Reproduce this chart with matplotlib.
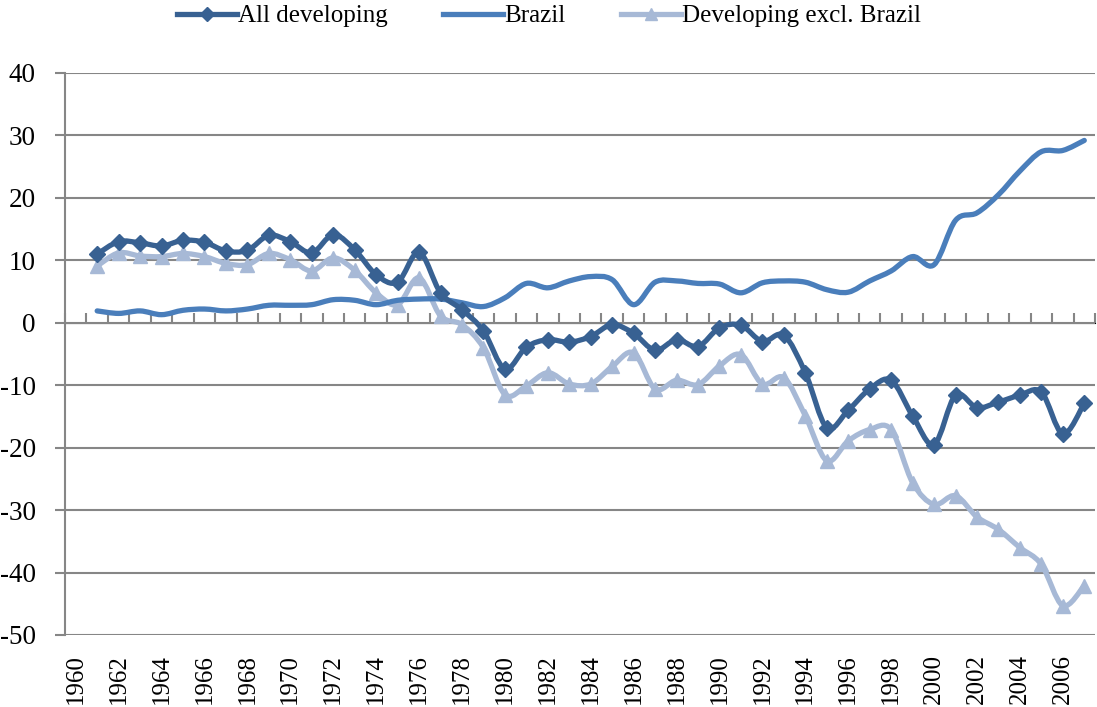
import numpy as np
import matplotlib
matplotlib.use("Agg")
import matplotlib.pyplot as plt
from matplotlib.path import Path
from matplotlib.patches import PathPatch
from matplotlib.lines import Line2D

years = list(range(1961, 2008))
all_developing = [11.0, 13.0, 12.8, 12.3, 13.2, 12.9, 11.5, 11.6, 14.0, 13.0, 11.2, 14.1, 11.7, 7.7, 6.5, 11.3,
                  4.8, 2.1, -1.3, -7.4, -3.9, -2.7, -3.1, -2.2, -0.3, -1.7, -4.4, -2.7, -3.8, -0.8, -0.4, -3.0, -2.0,
                  -8.0, -16.8, -14.0, -10.6, -9.2, -14.9, -19.5, -11.6, -13.6, -12.7, -11.6, -11.1, -17.8, -12.9]
brazil = [1.9, 1.5, 1.9, 1.3, 2.0, 2.2, 1.9, 2.2, 2.8, 2.8, 2.9, 3.7, 3.6, 2.9, 3.6, 3.8,
          3.8, 3.2, 2.6, 4.0, 6.3, 5.6, 6.7, 7.4, 6.9, 2.9, 6.5, 6.7, 6.3, 6.2, 4.8, 6.4, 6.7,
          6.5, 5.3, 4.9, 6.7, 8.3, 10.6, 9.3, 16.4, 17.6, 20.5, 24.3, 27.4, 27.6, 29.2]
excl_brazil = [9.1, 11.2, 10.7, 10.6, 11.1, 10.6, 9.5, 9.3, 11.1, 10.1, 8.3, 10.4, 8.4, 4.8, 2.9, 7.2,
               1.1, -0.3, -4.0, -11.5, -10.1, -8.0, -9.8, -9.8, -7.0, -4.8, -10.6, -9.2, -9.9, -6.9, -5.1, -9.8, -8.8,
               -14.9, -22.1, -18.9, -17.1, -17.1, -25.6, -29.1, -27.7, -31.1, -33.1, -36.0, -38.7, -45.3, -42.1]
tick_years = list(range(1960, 2007, 2))
yticks = list(range(-50, 41, 10))

c_all = "#386192"
c_bra = "#4A7EBB"
c_exc = "#A7B9D6"
grid_c = "#868686"

plt.rcParams['font.family'] = ['Liberation Serif', 'DejaVu Serif']

fig = plt.figure(figsize=(10.97, 7.07), dpi=100)
ax = fig.add_axes([65/1097, 1-635/707, 1030/1097, 562/707])


def smooth_path(xs, ys):
    p = np.column_stack([xs, ys]).astype(float)
    n = len(p)
    verts = [p[0]]
    codes = [Path.MOVETO]
    for i in range(n - 1):
        p0 = p[i - 1] if i > 0 else p[i]
        p1 = p[i]
        p2 = p[i + 1]
        p3 = p[i + 2] if i + 2 < n else p[i + 1]
        c1 = p1 + (p2 - p0) / 6.0
        c2 = p2 - (p3 - p1) / 6.0
        verts += [c1, c2, p2]
        codes += [Path.CURVE4] * 3
    return Path(verts, codes)


lw = 3.8
for ys, col, z in [(brazil, c_bra, 3), (excl_brazil, c_exc, 2), (all_developing, c_all, 4)]:
    ax.add_patch(PathPatch(smooth_path(years, ys), fill=False, edgecolor=col, lw=lw,
                           capstyle='round', joinstyle='round', zorder=z))

ax.plot(years, all_developing, linestyle='none', marker='D', ms=8.5, color=c_all, zorder=5)
ax.plot(years, excl_brazil, linestyle='none', marker='^', ms=10.5, color=c_exc, zorder=2.5)

ax.set_xlim(1959.5, 2007.5)
ax.set_ylim(-50, 40)
ax.set_yticks(yticks)
ax.set_yticklabels([str(v) for v in yticks], fontsize=19.5)
ax.set_xticks(tick_years)
ax.set_xticklabels([str(y) for y in tick_years], rotation=90, fontsize=18)
ax.tick_params(axis='x', length=0, pad=14)
ax.tick_params(axis='y', length=7, width=1.5, color=grid_c, pad=14, direction='out')
ax.grid(axis='y', color=grid_c, lw=1.5, zorder=0)
ax.set_axisbelow(True)
for s in ['top', 'right', 'bottom']:
    ax.spines[s].set_visible(False)
ax.spines['left'].set_color(grid_c)
ax.spines['left'].set_linewidth(1.5)

# category axis crossing at zero with tick marks at boundaries
sec = ax.secondary_xaxis(50/90)
sec.set_xticks(np.arange(1959.5, 2008, 1.0))
sec.set_xticklabels([])
sec.tick_params(length=7, width=1.5, color=grid_c, direction='out')
sec.spines['bottom'].set_color(grid_c)
sec.spines['bottom'].set_linewidth(1.5)

handles = [
    Line2D([], [], color=c_all, lw=lw, marker='D', ms=7),
    Line2D([], [], color=c_bra, lw=lw),
    Line2D([], [], color=c_exc, lw=lw, marker='^', ms=9),
]
fig.legend(handles, ['All developing', 'Brazil', 'Developing excl. Brazil'],
           loc='center', bbox_to_anchor=(549/1097, 1-16/707), ncol=3, frameon=False,
           fontsize=18, handlelength=2.4, handletextpad=0.05, columnspacing=2.2,
           borderaxespad=0, borderpad=0)

fig.savefig('out.png', dpi=100)
